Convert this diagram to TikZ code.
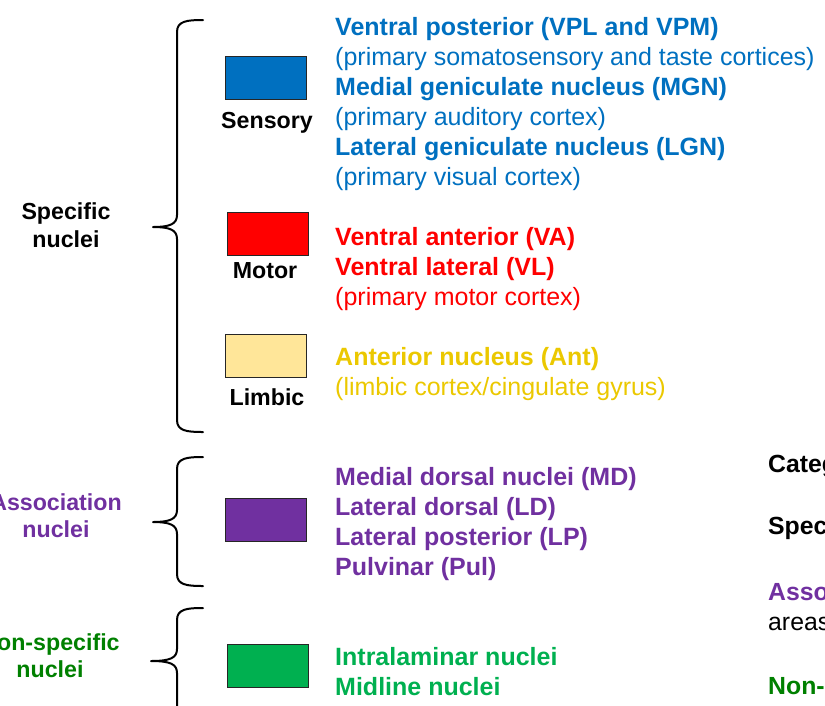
\documentclass[tikz,border=0pt]{standalone}
\usepackage{fontspec}
\setmainfont{Liberation Sans}
\definecolor{cblue}{RGB}{0,112,192}
\definecolor{cred}{RGB}{255,0,0}
\definecolor{cyel}{RGB}{235,200,0}
\definecolor{cyelfill}{RGB}{255,230,153}
\definecolor{cpurp}{RGB}{112,48,160}
\definecolor{cgreen}{RGB}{0,176,80}
\definecolor{cdgreen}{RGB}{0,128,0}
\begin{document}
\begin{tikzpicture}[x=1pt,y=-1pt,
  txt/.style={anchor=base west,inner sep=0,font=\fontsize{25}{30}\selectfont},
  bt/.style={anchor=base west,inner sep=0,font=\fontsize{25}{30}\selectfont\bfseries},
  lbl/.style={anchor=base,inner sep=0,font=\fontsize{23.2}{28}\selectfont\bfseries},
  rt/.style={anchor=base west,inner sep=0,font=\fontsize{24.8}{30}\selectfont},
  rbt/.style={anchor=base west,inner sep=0,font=\fontsize{24.8}{30}\selectfont\bfseries},
  swatch/.style={draw=black!85,line width=1pt,anchor=north west,minimum width=81pt,minimum height=43pt,inner sep=0},
  brace/.style={line width=2pt,line cap=round,line join=round}]
\useasboundingbox (0,0) rectangle (825,705);

% braces
\draw[brace] (203,20) .. controls (187,20) and (177,21) .. (177,32) -- (177,215) .. controls (177,224) and (170,227) .. (153,227) .. controls (170,227) and (177,230) .. (177,239) -- (177,420) .. controls (177,431) and (187,432) .. (203,432);
\draw[brace] (203,457) .. controls (187,457) and (177,458) .. (177,469) -- (177,510) .. controls (177,519) and (170,522) .. (153,522) .. controls (170,522) and (177,525) .. (177,534) -- (177,574) .. controls (177,585) and (187,586) .. (203,586);
\draw[brace] (203,608) .. controls (187,608) and (177,609) .. (177,620) -- (177,649) .. controls (177,658) and (170,661) .. (151,661) .. controls (170,661) and (177,664) .. (177,673) -- (177,714);

% group labels
\node[lbl] (spec1) at (66,219) {Specific};
\node[lbl] (spec2) at (66,247) {nuclei};
\node[lbl,text=cpurp] (assoc1) at (56,510) {Association};
\node[lbl,text=cpurp] (assoc2) at (56,537) {nuclei};
\node[lbl,text=cdgreen] (nons1) at (50,650) {Non-specific};
\node[lbl,text=cdgreen] (nons2) at (50,677) {nuclei};

% swatches
\node[swatch,fill=cblue] (sensbox) at (225,56) {};
\node[lbl] (senslbl) at (267,128) {Sensory};
\node[swatch,fill=cred] (motbox) at (227,212) {};
\node[lbl] (motlbl) at (265,278) {Motor};
\node[swatch,fill=cyelfill] (limbox) at (225,334) {};
\node[lbl] (limlbl) at (267,405) {Limbic};
\node[swatch,fill=cpurp] (assbox) at (225,498) {};
\node[swatch,fill=cgreen] (nonbox) at (227,644) {};

% sensory text
\node[bt,text=cblue] (s1) at (335,35) {Ventral posterior (VPL and VPM)};
\node[txt,text=cblue] (s2) at (335,65) {(primary somatosensory and taste cortices)};
\node[bt,text=cblue] (s3) at (335,95) {Medial geniculate nucleus (MGN)};
\node[txt,text=cblue] (s4) at (335,125) {(primary auditory cortex)};
\node[bt,text=cblue] (s5) at (335,155) {Lateral geniculate nucleus (LGN)};
\node[txt,text=cblue] (s6) at (335,185) {(primary visual cortex)};
% motor
\node[bt,text=cred] (m1) at (335,245) {Ventral anterior (VA)};
\node[bt,text=cred] (m2) at (335,275) {Ventral lateral (VL)};
\node[txt,text=cred] (m3) at (335,305) {(primary motor cortex)};
% limbic
\node[bt,text=cyel] (l1) at (335,365) {Anterior nucleus (Ant)};
\node[txt,text=cyel] (l2) at (335,395) {(limbic cortex/cingulate gyrus)};
% association
\node[bt,text=cpurp] (a1) at (335,485) {Medial dorsal nuclei (MD)};
\node[bt,text=cpurp] (a2) at (335,515) {Lateral dorsal (LD)};
\node[bt,text=cpurp] (a3) at (335,545) {Lateral posterior (LP)};
\node[bt,text=cpurp] (a4) at (335,575) {Pulvinar (Pul)};
% non-specific
\node[bt,text=cgreen] (n1) at (335,665) {Intralaminar nuclei};
\node[bt,text=cgreen] (n2) at (335,695) {Midline nuclei};

% right column (cut off at the edge)
\node[rbt] (r1) at (768,472) {Category};
\node[rbt] (r2) at (768,534) {Specific};
\node[rbt,text=cpurp] (r3) at (768,600) {Association};
\node[rt] (r4) at (768,630) {areas};
\node[rbt,text=cdgreen] (r5) at (768,694) {Non-specific};
\end{tikzpicture}
\end{document}
